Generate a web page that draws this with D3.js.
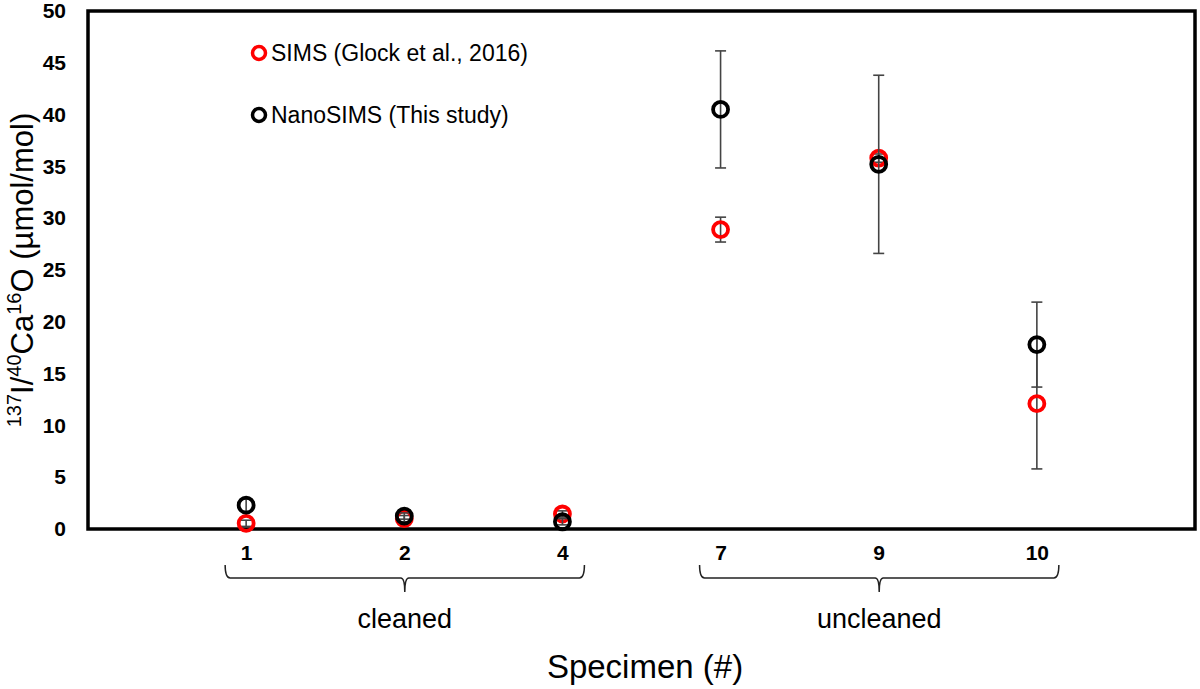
<!DOCTYPE html>
<html>
<head>
<meta charset="utf-8">
<script src="https://cdn.jsdelivr.net/npm/d3@7"></script>
<style>
  body { margin: 0; background: #fff; }
  text { font-family: "Liberation Sans", Arial, sans-serif; }
</style>
</head>
<body>
<svg width="1200" height="689"></svg>
<script>
// data
const specimens = ["1", "2", "4", "7", "9", "10"];
const simsValues = [0.55, 1.0, 1.45, 28.9, 35.8, 12.1];
const simsErrors = [0.3, 0.3, 0.3, 1.2, 0.4, 6.3];
const nanoValues = [2.3, 1.25, 0.7, 40.5, 35.2, 17.8];
const nanoErrors = [0.6, 0.3, 0.3, 5.65, 8.6, 4.1];
const yTicks = [0, 5, 10, 15, 20, 25, 30, 35, 40, 45, 50];
const groups = [
  {label: "cleaned", from: "1", to: "4"},
  {label: "uncleaned", from: "7", to: "10"}
];

const plotLeft = 88, plotRight = 1195, plotTop = 11, plotBottom = 529;
const svg = d3.select("svg");

const x = d3.scaleLinear().domain([0, specimens.length + 1]).range([plotLeft, plotRight]);
const y = d3.scaleLinear().domain([0, 50]).range([plotBottom, plotTop]);
const xpos = s => x(specimens.indexOf(s) + 1);

// frame
svg.append("rect")
  .attr("x", plotLeft).attr("y", plotTop)
  .attr("width", plotRight - plotLeft).attr("height", plotBottom - plotTop)
  .attr("fill", "none").attr("stroke", "#000").attr("stroke-width", 3.5);

// y axis labels
const yAxis = d3.axisLeft(y).tickValues(yTicks).tickSize(0).tickPadding(22);
const gy = svg.append("g").attr("transform", "translate(" + plotLeft + ",0)").call(yAxis);
gy.select(".domain").remove();
gy.selectAll("text")
  .style("font-family", "'Liberation Sans', Arial, sans-serif")
  .style("font-size", "21px").style("font-weight", "bold").attr("fill", "#000");

// x axis labels
const xAxis = d3.axisBottom(x)
  .tickValues(specimens.map((d, i) => i + 1))
  .tickFormat((d, i) => specimens[i])
  .tickSize(0).tickPadding(16);
const gx = svg.append("g").attr("transform", "translate(0," + plotBottom + ")").call(xAxis);
gx.select(".domain").remove();
gx.selectAll("text")
  .style("font-family", "'Liberation Sans', Arial, sans-serif")
  .style("font-size", "21px").style("font-weight", "bold").attr("fill", "#000");

// brackets under the groups
const by = 578;
groups.forEach(g => {
  const x0 = xpos(g.from) - 21, x1 = xpos(g.to) + 22, xm = (x0 + x1) / 2;
  const p = d3.path();
  p.moveTo(x0, by - 13);
  p.quadraticCurveTo(x0, by, x0 + 5, by);
  p.lineTo(xm - 4, by);
  p.quadraticCurveTo(xm, by, xm, by + 14);
  p.quadraticCurveTo(xm, by, xm + 4, by);
  p.lineTo(x1 - 5, by);
  p.quadraticCurveTo(x1, by, x1, by - 13);
  svg.append("path").attr("d", p.toString())
    .attr("fill", "none").attr("stroke", "#222").attr("stroke-width", 1.5);
  svg.append("text").attr("x", xm).attr("y", 628)
    .attr("text-anchor", "middle").style("font-size", "27px").text(g.label);
});

// error bars and points
function drawSeries(vals, errs, color) {
  const g = svg.append("g");
  vals.forEach((v, i) => {
    const cx = x(i + 1), e = errs[i];
    g.append("line").attr("x1", cx).attr("x2", cx)
      .attr("y1", y(v + e)).attr("y2", y(v - e))
      .attr("stroke", "#444").attr("stroke-width", 1.6);
    [v + e, v - e].forEach(t => {
      g.append("line").attr("x1", cx - 5.5).attr("x2", cx + 5.5)
        .attr("y1", y(t)).attr("y2", y(t))
        .attr("stroke", "#444").attr("stroke-width", 1.6);
    });
  });
  g.selectAll("circle").data(vals).join("circle")
    .attr("cx", (d, i) => x(i + 1)).attr("cy", d => y(d)).attr("r", 7.5)
    .attr("fill", "none").attr("stroke", color).attr("stroke-width", 3.8);
}
drawSeries(simsValues, simsErrors, "#f00");
drawSeries(nanoValues, nanoErrors, "#000");

// legend
const legend = [
  {label: "SIMS (Glock et al., 2016)", color: "#f00", y: 53},
  {label: "NanoSIMS (This study)", color: "#000", y: 115}
];
legend.forEach(l => {
  svg.append("circle").attr("cx", 259).attr("cy", l.y).attr("r", 6.5)
    .attr("fill", "none").attr("stroke", l.color).attr("stroke-width", 3.5);
  svg.append("text").attr("x", 271).attr("y", l.y + 8)
    .style("font-size", "23px").text(l.label);
});

// axis titles
svg.append("text").attr("x", 645).attr("y", 678)
  .attr("text-anchor", "middle").style("font-size", "33px").text("Specimen (#)");

const yt = svg.append("text")
  .attr("transform", "translate(33,270) rotate(-90)")
  .attr("text-anchor", "middle").style("font-size", "31px");
yt.append("tspan").attr("dy", -12).style("font-size", "20px").text("137");
yt.append("tspan").attr("dy", 12).text("I/");
yt.append("tspan").attr("dy", -12).style("font-size", "20px").text("40");
yt.append("tspan").attr("dy", 12).text("Ca");
yt.append("tspan").attr("dy", -12).style("font-size", "20px").text("16");
yt.append("tspan").attr("dy", 12).text("O (µmol/mol)");
</script>
</body>
</html>
